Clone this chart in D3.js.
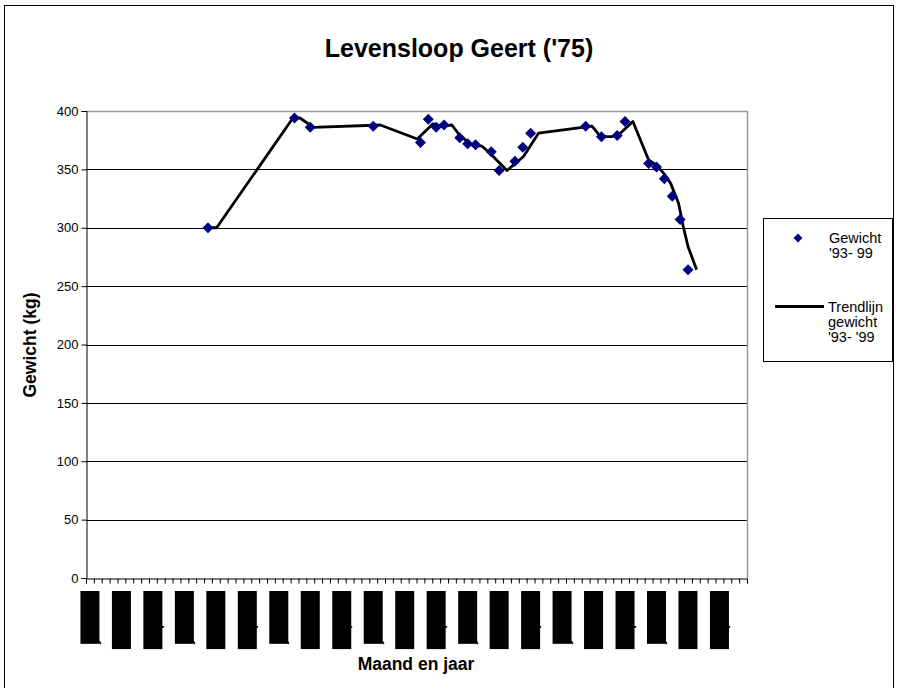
<!DOCTYPE html>
<html>
<head>
<meta charset="utf-8">
<script src="https://cdn.jsdelivr.net/npm/d3@7/dist/d3.min.js"></script>
<style>
  body { margin: 0; background: #fff; }
  svg { display: block; font-family: "Liberation Sans", Arial, sans-serif; }
</style>
</head>
<body>
<div id="chart"></div>
<script>
// month index (0 = jan-93) and weight of each measurement
var months = [15, 26, 28, 36, 42, 43, 44, 45, 47, 48, 49, 51, 52, 54, 55, 56,
  63, 65, 67, 68, 71, 72, 73, 74, 75, 76];
var weights = [300, 394, 386, 387, 373, 393, 386, 388, 377, 372, 371, 365, 349, 357, 369, 381,
  387, 378, 379, 391, 355, 352, 342, 327, 307, 264];

// trend line (month index, kg)
var trendMonths = [15, 16.1, 25.8, 26.7, 28.4, 36.9, 41.6, 43.6, 44.7, 46, 47, 48.5, 49.8,
  50.8, 53, 55.1, 57, 63.8, 64.9, 66.3, 67.4, 69, 71, 72.1, 73.1, 73.8, 74.8, 75.4, 76, 77.1];
var trendWeights = [300, 300, 394, 394, 386, 388, 376, 389, 387, 388, 379, 371, 370,
  364, 349, 361, 381, 387, 378, 378, 381, 391, 358, 353, 345, 338, 321, 301, 284, 264];

var monthCount = 84;
var tickLabels = ['jan-93', 'mei-93', 'sep-93', 'jan-94', 'mei-94', 'sep-94', 'jan-95',
  'mei-95', 'sep-95', 'jan-96', 'mei-96', 'sep-96', 'jan-97', 'mei-97', 'sep-97',
  'jan-98', 'mei-98', 'sep-98', 'jan-99', 'mei-99', 'sep-99'];
var yTicks = [0, 50, 100, 150, 200, 250, 300, 350, 400];

var width = 898, height = 688;
var plot = { left: 86, right: 747, top: 111, bottom: 578 };

var svg = d3.select('#chart').append('svg')
  .attr('width', width)
  .attr('height', height);

// chart area border
svg.append('rect')
  .attr('x', 4.5).attr('y', 5.5)
  .attr('width', 889).attr('height', 700)
  .attr('fill', '#fff').attr('stroke', '#000');

var x = d3.scaleLinear().domain([0, monthCount]).range([plot.left, plot.right]);
var y = d3.scaleLinear().domain([0, 400]).range([plot.bottom, plot.top]);
var cx = function (m) { return x(m + 0.5); };

// title
svg.append('text')
  .attr('x', 459).attr('y', 57)
  .attr('text-anchor', 'middle')
  .attr('font-size', 25).attr('font-weight', 'bold')
  .text("Levensloop Geert ('75)");

// gridlines
svg.append('g')
  .selectAll('line')
  .data(yTicks.filter(d => d > 0 && d < 400))
  .enter().append('line')
  .attr('x1', plot.left).attr('x2', plot.right)
  .attr('y1', d => Math.round(y(d)) + 0.5).attr('y2', d => Math.round(y(d)) + 0.5)
  .attr('stroke', '#000');

// plot area border (top + right)
svg.append('path')
  .attr('d', `M${plot.left},${plot.top + 0.5}H${plot.right + 0.5}V${plot.bottom}`)
  .attr('fill', 'none').attr('stroke', '#999').attr('stroke-width', 1.5);

// y axis
var yAxis = d3.axisLeft(y).tickValues(yTicks).tickSize(5).tickPadding(3);
var yG = svg.append('g')
  .attr('transform', `translate(${plot.left + 0.5},0)`)
  .call(yAxis);
yG.select('.domain').attr('stroke', '#000');
yG.selectAll('.tick line').attr('stroke', '#000');
yG.selectAll('.tick text').attr('font-size', 13).attr('font-family', 'Liberation Sans, Arial, sans-serif').attr('fill', '#000');

// x axis: a tick between every month
var xAxis = d3.axisBottom(x).tickValues(d3.range(0, monthCount + 1)).tickSize(5).tickFormat('');
var xG = svg.append('g')
  .attr('transform', `translate(0,${plot.bottom + 0.5})`)
  .call(xAxis);
xG.select('.domain').attr('stroke', '#000');
xG.selectAll('.tick line').attr('stroke', '#000');

// month labels, every 4th month, rendered as dark blocks
var labelG = svg.append('g');
tickLabels.forEach(function (lab, i) {
  var px = cx(i * 4);
  var g = labelG.append('g').attr('transform', `translate(${px},591)`);
  var rect = g.append('rect').attr('fill', '#000');
  var t = g.append('text')
    .attr('transform', 'rotate(-90)')
    .attr('text-anchor', 'end')
    .attr('dy', '0.35em')
    .attr('font-size', 19)
    .attr('fill', '#000')
    .text(lab);
  var len = t.node().getComputedTextLength();
  rect.attr('x', -9.5).attr('y', 0).attr('width', 19).attr('height', len);
});

// trend line
var line = d3.line()
  .x((d, i) => cx(trendMonths[i]))
  .y(d => y(d));
svg.append('path')
  .datum(trendWeights)
  .attr('d', line)
  .attr('fill', 'none')
  .attr('stroke', '#000')
  .attr('stroke-width', 2.8)
  .attr('stroke-linejoin', 'round');

// data points
var diamond = 'M0,-5.5L5.5,0L0,5.5L-5.5,0Z';
svg.append('g')
  .selectAll('path')
  .data(weights)
  .enter().append('path')
  .attr('d', diamond)
  .attr('transform', (d, i) => `translate(${cx(months[i])},${y(d)})`)
  .attr('fill', '#000080');

// axis titles
svg.append('text')
  .attr('transform', 'translate(36,345) rotate(-90)')
  .attr('text-anchor', 'middle')
  .attr('font-size', 17.5).attr('font-weight', 'bold')
  .text('Gewicht (kg)');

svg.append('text')
  .attr('x', 416).attr('y', 670)
  .attr('text-anchor', 'middle')
  .attr('font-size', 17.5).attr('font-weight', 'bold')
  .text('Maand en jaar');

// legend
var legend = svg.append('g');
legend.append('rect')
  .attr('x', 763.5).attr('y', 218.5)
  .attr('width', 129).attr('height', 143)
  .attr('fill', '#fff').attr('stroke', '#000');
legend.append('path')
  .attr('d', 'M0,-4.5L4.5,0L0,4.5L-4.5,0Z')
  .attr('transform', 'translate(798,238)')
  .attr('fill', '#000080');
var legText = function (lines, x0, y0) {
  var t = legend.append('text').attr('font-size', 14.5).attr('fill', '#000');
  lines.forEach(function (s, i) {
    t.append('tspan').attr('x', x0).attr('y', y0 + i * 15).text(s);
  });
};
legText(['Gewicht', "'93- 99"], 829, 243);
legend.append('line')
  .attr('x1', 775).attr('x2', 824)
  .attr('y1', 306.5).attr('y2', 306.5)
  .attr('stroke', '#000').attr('stroke-width', 2.8);
legText(['Trendlijn', 'gewicht', "'93- '99"], 828, 312);
</script>
</body>
</html>
